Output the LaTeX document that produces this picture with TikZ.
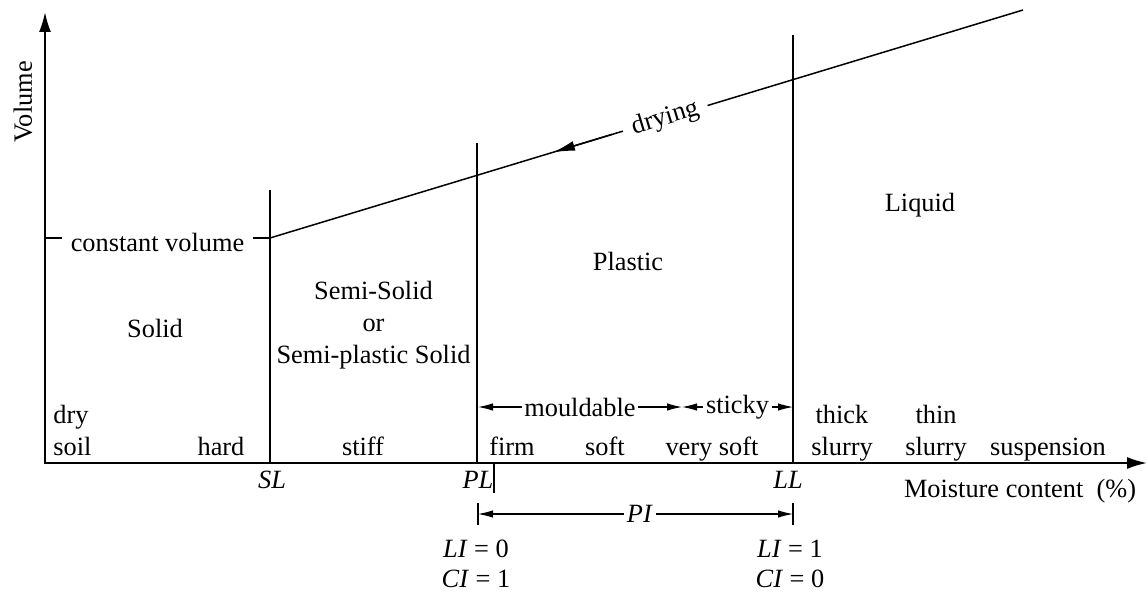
\documentclass[tikz,border=0pt]{standalone}
\usepackage{fontspec}
\setmainfont{Liberation Serif}
\usetikzlibrary{arrows.meta}

\begin{document}
\begin{tikzpicture}[x=0.02cm, y=-0.02cm,
    every node/.style={font=\fontsize{15}{18}\selectfont, inner sep=0pt},
    axis/.style={line width=1.1pt, line join=miter, {Latex[length=0.4cm,width=0.24cm]}-{Latex[length=0.4cm,width=0.24cm]}},
    limit/.style={line width=0.85pt},
    tick/.style={line width=0.6pt},
    dim/.style={line width=0.6pt, {Latex[length=0.3cm,width=0.15cm]}-{Latex[length=0.3cm,width=0.15cm]}},
    lbl/.style={anchor=base, align=center},
    gap/.style={fill=white, inner xsep=1.5pt, inner ysep=1pt}]
  \useasboundingbox (0,0) rectangle (1148,591);

  % axes
  \coordinate (o) at (45,463);
  \coordinate (ytop) at (45,12);
  \coordinate (xend) at (1147,463);
  \draw[axis] (ytop) -- (o) -- (xend);
  \node[rotate=90] (vol) at (23,102) {Volume};
  \node[lbl] (mc) at (1020,497) {Moisture content~~(\%)};

  % limits
  \coordinate (sl) at (270,463);  \coordinate (sltop) at (270,190);
  \coordinate (pl) at (477,463);  \coordinate (pltop) at (477,143);
  \coordinate (ll) at (793,463);  \coordinate (lltop) at (793,35);
  \draw[limit] (sl) -- (sltop);
  \draw[limit] (pl) -- (pltop);
  \draw[limit] (ll) -- (lltop);
  \coordinate (pltick) at (494,463); \coordinate (pltickend) at (494,493);
  \draw[tick] (pltick) -- (pltickend);
  \node[lbl] (slname) at (272,488) {\textit{SL}};
  \node[lbl] (plname) at (478,488) {\textit{PL}};
  \node[lbl] (llname) at (788,488) {\textit{LL}};

  % volume curve
  \coordinate (cv) at (45,238);
  \coordinate (knee) at (270,238);
  \coordinate (wet) at (1023,10);
  \draw[limit] (cv) -- node[gap, inner xsep=5pt, yshift=-2.3pt] (cvname) {constant volume} (knee);
  \draw[limit] (wet) -- node[gap, inner xsep=5.5pt, sloped, pos=0.475] (dry) {drying} (knee);
  \coordinate (drya) at (612,134.4);
  \coordinate (dryb) at (553,152.3);
  \draw[limit, -{Latex[length=0.44cm,width=0.2cm]}] (drya) -- (dryb);

  % states
  \node[lbl] (solid) at (155,337) {Solid};
  \node[lbl] (semi) at (373.5,363) {Semi-Solid\\or\\Semi-plastic Solid};
  \node[lbl] (plastic) at (628,270) {Plastic};
  \node[lbl] (liquid) at (920,212) {Liquid};

  % consistency
  \node[anchor=base west, align=left] (drysoil) at (53,455) {dry\\soil};
  \node[lbl] (hard) at (221,455) {hard};
  \node[lbl] (stiff) at (363,455) {stiff};
  \node[lbl] (firm) at (512,455) {firm};
  \node[lbl] (soft) at (605,455) {soft};
  \node[lbl] (vsoft) at (712,455) {very soft};
  \node[lbl] (thick) at (842,455) {thick\\slurry};
  \node[lbl] (thin) at (936,455) {thin\\slurry};
  \node[lbl] (susp) at (1048,455) {suspension};

  % mouldable / sticky
  \coordinate (ma) at (478,407);
  \coordinate (mb) at (682,407);
  \coordinate (mc2) at (793,407);
  \draw[dim] (ma) -- node[gap] (mould) {mouldable} (mb);
  \draw[dim] (mb) -- node[gap] (sticky) {sticky} (mc2);

  % plasticity index
  \coordinate (pia) at (478,503); \coordinate (pib) at (478,525);
  \coordinate (pic) at (793,503); \coordinate (pid) at (793,525);
  \draw[tick] (pia) -- (pib);
  \draw[tick] (pic) -- (pid);
  \coordinate (pil) at (478,514); \coordinate (pir) at (793,514);
  \draw[dim] (pil) -- node[gap, pos=0.514] (pi) {\textit{PI}} (pir);
  \node[lbl, font=\fontsize{15}{17}\selectfont] (lizero) at (476,587) {\textit{LI} = 0\\\textit{CI} = 1};
  \node[lbl, font=\fontsize{15}{17}\selectfont] (lione) at (790,587) {\textit{LI} = 1\\\textit{CI} = 0};
\end{tikzpicture}
\end{document}
